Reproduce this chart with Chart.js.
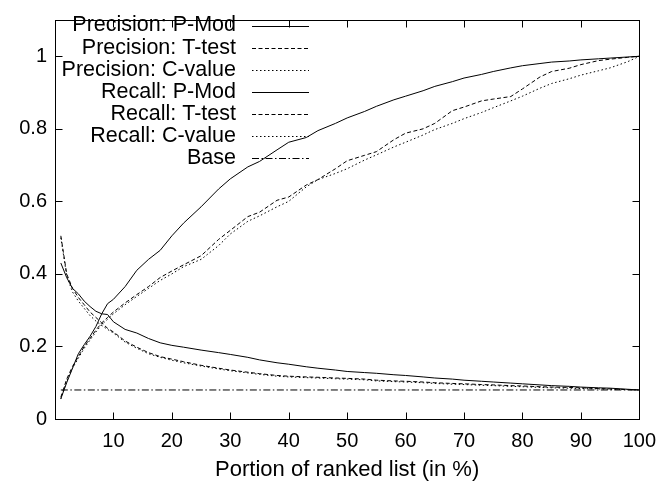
<!DOCTYPE html>
<html>
<head>
<meta charset="utf-8">
<script src="https://cdn.jsdelivr.net/npm/chart.js@4.4.1/dist/chart.umd.min.js"></script>
<style>
html,body{margin:0;padding:0;background:#fff;}
canvas{display:block;}
</style>
</head>
<body>
<canvas id="c" width="666" height="485"></canvas>
<script>
// ---- data ----
const portion = [1,2,3,4,5,6,7,8,9,10,12,14,16,18,20,22,25,28,30,33,35,38,40,43,45,48,50,53,55,58,60,63,65,68,70,73,75,78,80,83,85,88,90,93,95,98,100];

const precisionPMod = [0.43,0.39,0.36,0.345,0.325,0.31,0.297,0.29,0.288,0.268,0.247,0.237,0.222,0.21,0.203,0.198,0.19,0.183,0.178,0.17,0.163,0.155,0.151,0.144,0.14,0.135,0.131,0.128,0.126,0.122,0.12,0.116,0.113,0.11,0.107,0.104,0.102,0.099,0.097,0.094,0.092,0.09,0.088,0.086,0.085,0.082,0.08];

const precisionTtest = [0.505,0.40,0.36,0.335,0.315,0.295,0.28,0.265,0.25,0.24,0.215,0.198,0.183,0.172,0.165,0.158,0.148,0.14,0.135,0.129,0.125,0.12,0.118,0.116,0.115,0.113,0.112,0.11,0.107,0.105,0.104,0.102,0.1,0.098,0.097,0.095,0.094,0.092,0.091,0.089,0.088,0.087,0.086,0.084,0.083,0.081,0.08];

const precisionCvalue = [0.50,0.395,0.35,0.325,0.305,0.285,0.27,0.258,0.247,0.237,0.212,0.195,0.18,0.17,0.162,0.155,0.146,0.138,0.133,0.127,0.123,0.118,0.116,0.114,0.113,0.111,0.11,0.108,0.105,0.103,0.102,0.1,0.098,0.096,0.095,0.093,0.092,0.09,0.089,0.087,0.086,0.085,0.084,0.083,0.082,0.081,0.08];

const recallPMod = [0.056,0.10,0.14,0.18,0.205,0.228,0.255,0.29,0.318,0.33,0.365,0.41,0.44,0.465,0.505,0.54,0.585,0.634,0.662,0.695,0.71,0.742,0.763,0.776,0.795,0.815,0.83,0.848,0.862,0.88,0.89,0.905,0.917,0.93,0.94,0.95,0.958,0.968,0.974,0.98,0.984,0.987,0.99,0.993,0.995,0.998,1.0];

const recallTtest = [0.06,0.11,0.145,0.172,0.2,0.222,0.245,0.265,0.28,0.295,0.32,0.343,0.365,0.39,0.408,0.425,0.45,0.495,0.52,0.558,0.57,0.603,0.612,0.645,0.66,0.69,0.712,0.727,0.737,0.77,0.788,0.8,0.815,0.85,0.86,0.877,0.882,0.889,0.91,0.943,0.958,0.967,0.977,0.988,0.992,0.997,1.0];

const recallCvalue = [0.055,0.105,0.14,0.168,0.195,0.218,0.24,0.26,0.275,0.29,0.315,0.338,0.36,0.382,0.4,0.42,0.44,0.478,0.51,0.545,0.56,0.585,0.6,0.64,0.66,0.677,0.69,0.714,0.728,0.75,0.763,0.783,0.798,0.815,0.828,0.845,0.858,0.877,0.89,0.912,0.925,0.938,0.948,0.96,0.968,0.985,1.0];

const basePortion = [1,100];
const baseValue = [0.08,0.08];

const seriesLabels = ["Precision: P-Mod","Precision: T-test","Precision: C-value","Recall: P-Mod","Recall: T-test","Recall: C-value","Base"];
const xTickValues = [10,20,30,40,50,60,70,80,90,100];
const yTickValues = [0,0.2,0.4,0.6,0.8,1];
const xTitle = "Portion of ranked list (in %)";

// ---- styles ----
const SOLID = [];
const DASHED = [4,2.5];
const DOTTED = [1.5,2.5];
const DASHDOT = [7,2.5,1.5,2.5];
const FONT = "'Liberation Sans', Arial, Helvetica, sans-serif";

function pts(xs, ys){ return xs.map((x,i)=>({x:x, y:ys[i]})); }

const seriesData = [
  pts(portion, precisionPMod),
  pts(portion, precisionTtest),
  pts(portion, precisionCvalue),
  pts(portion, recallPMod),
  pts(portion, recallTtest),
  pts(portion, recallCvalue),
  pts(basePortion, baseValue)
];
const dashes = [SOLID, DASHED, DOTTED, SOLID, DASHED, DOTTED, DASHDOT];

const datasets = seriesData.map((d,i)=>({
  label: seriesLabels[i],
  data: d,
  borderColor: '#000',
  borderWidth: 1,
  borderDash: dashes[i],
  pointRadius: 0,
  fill: false,
  tension: 0
}));

const frameAndKey = {
  id: 'frameAndKey',
  afterDraw(chart){
    const ctx = chart.ctx;
    const a = chart.chartArea;
    const xs = chart.scales.x, ys = chart.scales.y;
    const L = Math.round(a.left)+0.5, R = Math.round(a.right)+0.5;
    const T = Math.round(a.top)+0.5, B = Math.round(a.bottom)+0.5;
    ctx.save();
    ctx.strokeStyle = '#000';
    ctx.lineWidth = 1;
    ctx.setLineDash([]);
    ctx.strokeRect(L, T, R-L, B-T);
    const tl = 7;
    ctx.beginPath();
    xTickValues.forEach(v=>{
      const px = Math.round(xs.getPixelForValue(v))+0.5;
      ctx.moveTo(px, B); ctx.lineTo(px, B-tl);
      ctx.moveTo(px, T); ctx.lineTo(px, T+tl);
    });
    yTickValues.forEach(v=>{
      const py = Math.round(ys.getPixelForValue(v))+0.5;
      ctx.moveTo(L, py); ctx.lineTo(L+tl, py);
      ctx.moveTo(R, py); ctx.lineTo(R-tl, py);
    });
    ctx.stroke();
    // key
    ctx.font = "21.5px " + FONT;
    ctx.fillStyle = '#000';
    ctx.textAlign = 'right';
    ctx.textBaseline = 'middle';
    const textRight = 236, lineL = 252, lineR = 309, row0 = 25.5, rowH = 22.1;
    chart.data.datasets.forEach((ds,i)=>{
      const y = row0 + i*rowH;
      ctx.fillText(ds.label, textRight, y);
      ctx.beginPath();
      ctx.setLineDash(ds.borderDash);
      ctx.moveTo(lineL, Math.round(y)+0.5);
      ctx.lineTo(lineR, Math.round(y)+0.5);
      ctx.stroke();
    });
    ctx.restore();
  }
};

new Chart(document.getElementById('c'), {
  type: 'line',
  data: { datasets: datasets },
  options: {
    responsive: false,
    animation: false,
    devicePixelRatio: 1,
    layout: { padding: { left: 0, right: 19, top: 7, bottom: 0 } },
    plugins: { legend: { display: false }, tooltip: { enabled: false } },
    scales: {
      x: {
        type: 'linear',
        min: 0, max: 100,
        afterBuildTicks: s => { s.ticks = xTickValues.map(v=>({value:v})); },
        afterFit: s => { s.height = 66; },
        grid: { display: false, drawTicks: false },
        border: { display: false },
        ticks: { color: '#000', font: { family: FONT, size: 20 }, padding: 10, maxRotation: 0, autoSkip: false },
        title: { display: true, text: xTitle, color: '#000', font: { family: FONT, size: 22 }, padding: { top: 0, bottom: 2 } }
      },
      y: {
        type: 'linear',
        min: 0, max: 1.1,
        afterBuildTicks: s => { s.ticks = yTickValues.map(v=>({value:v})); },
        afterFit: s => { s.width = 55; },
        grid: { display: false, drawTicks: false },
        border: { display: false },
        ticks: { color: '#000', font: { family: FONT, size: 20 }, padding: 8, callback: v => String(+v.toFixed(1)) }
      }
    }
  },
  plugins: [frameAndKey]
});
</script>
</body>
</html>
